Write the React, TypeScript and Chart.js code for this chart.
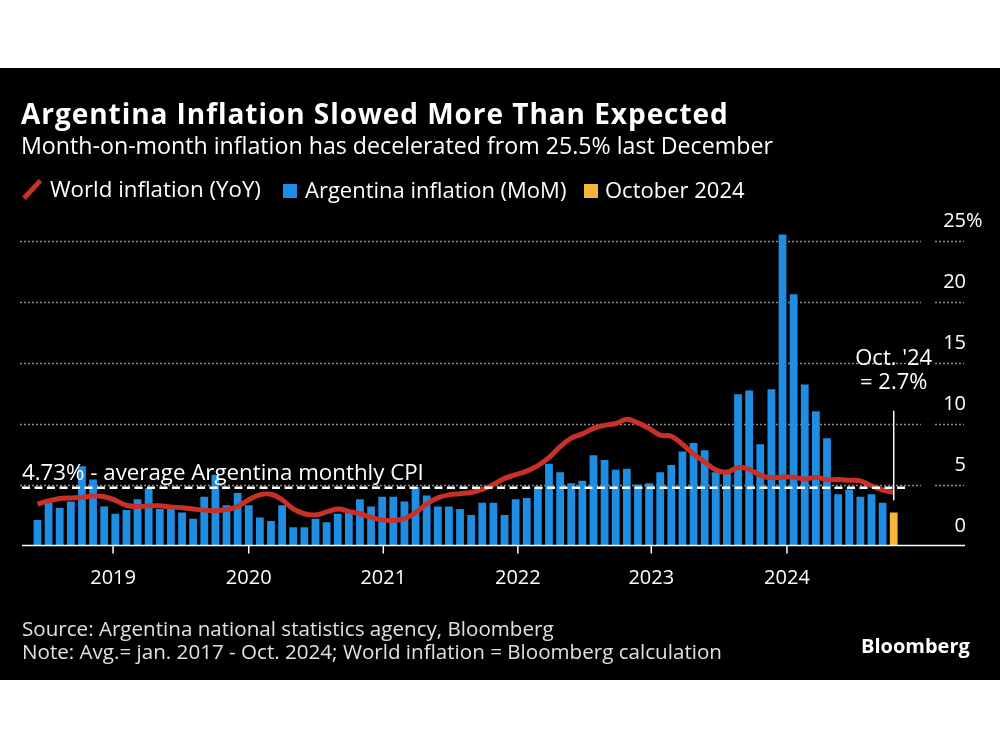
import React, { useEffect, useRef } from "react";
import { Chart, registerables } from "chart.js";

Chart.register(...registerables);

// ---- Data (monthly, May 2018 .. Oct 2024) ----
const argentinaMoM = [
  2.1, 3.5, 3.1, 3.6, 6.5, 5.4, 3.2, 2.6,
  2.9, 3.8, 4.7, 3.0, 3.0, 2.7, 2.2, 4.0, 5.8, 3.3, 4.3, 3.3,
  2.3, 2.0, 3.3, 1.5, 1.5, 2.2, 1.9, 2.6, 2.8, 3.8, 3.2, 4.0,
  4.0, 3.6, 4.8, 4.1, 3.2, 3.2, 3.0, 2.5, 3.5, 3.5, 2.5, 3.8,
  3.9, 4.7, 6.7, 6.0, 5.1, 5.3, 7.4, 7.0, 6.2, 6.3, 5.0, 5.1,
  6.0, 6.6, 7.7, 8.4, 7.8, 6.0, 6.2, 12.4, 12.7, 8.3, 12.8, 25.5,
  20.6, 13.2, 11.0, 8.8, 4.2, 4.6, 4.0, 4.2, 3.5, 2.7,
];

const worldYoY = [
  3.4, 3.65, 3.85, 3.9, 3.95, 4.05, 4.0, 3.7,
  3.3, 3.2, 3.25, 3.25, 3.15, 3.1, 3.0, 2.9, 2.85, 2.95, 3.2, 3.75,
  4.15, 4.2, 3.75, 3.0, 2.6, 2.5, 2.75, 3.0, 2.8, 2.6, 2.3, 2.1,
  2.05, 2.2, 2.7, 3.4, 3.9, 4.15, 4.25, 4.35, 4.6, 5.0, 5.5, 5.8,
  6.1, 6.55, 7.2, 8.1, 8.8, 9.15, 9.6, 9.85, 10.0, 10.35, 10.05, 9.6,
  9.05, 8.95, 8.3, 7.5, 6.85, 6.2, 6.0, 6.4, 6.25, 5.75, 5.55, 5.6,
  5.6, 5.45, 5.6, 5.4, 5.4, 5.35, 5.3, 4.9, 4.55, 4.35,
];

const highlightIndex = 77; // October 2024
const averageCPI = 4.73;
const yearLabels = ["2019", "2020", "2021", "2022", "2023", "2024"];
const yearTickPositions = [6.8, 19.0, 31.1, 43.2, 55.2, 67.4];
const yTickValues = [5, 10, 15, 20, 25];
const yLabelValues = [0, 5, 10, 15, 20, 25];

const X_MIN = -1.39;
const X_MAX = 83.41;
const AVG_END = 78.1;

const BLUE = "#1e8de2";
const YELLOW = "#f7b53b";
const RED = "#c93027";
const FONT = '"Open Sans", "Noto Sans", sans-serif';

const decor = {
  id: "decor",
  beforeDatasetsDraw(chart: any) {
    const ctx = chart.ctx;
    const y = chart.scales.y;
    ctx.save();
    ctx.strokeStyle = "#8c8c8c";
    ctx.lineWidth = 1.5;
    ctx.setLineDash([2, 2]);
    yTickValues.forEach((v) => {
      const py = Math.round(y.getPixelForValue(v)) + 0.5;
      ctx.beginPath();
      ctx.moveTo(20, py);
      ctx.lineTo(921, py);
      ctx.moveTo(935, py);
      ctx.lineTo(964, py);
      ctx.stroke();
    });
    ctx.restore();
  },
  afterDatasetsDraw(chart: any) {
    const ctx = chart.ctx;
    const x = chart.scales.x;
    const y = chart.scales.y;
    const area = chart.chartArea;
    const base = y.getPixelForValue(0);
    ctx.save();
    // x axis line
    ctx.strokeStyle = "#ffffff";
    ctx.lineWidth = 1.5;
    ctx.beginPath();
    ctx.moveTo(area.left, base);
    ctx.lineTo(area.right, base);
    ctx.stroke();
    // ticks & year labels
    ctx.fillStyle = "#ffffff";
    ctx.font = `20px ${FONT}`;
    ctx.textAlign = "center";
    ctx.textBaseline = "alphabetic";
    yearTickPositions.forEach((p, i) => {
      const px = x.getPixelForValue(p);
      ctx.beginPath();
      ctx.moveTo(px, base);
      ctx.lineTo(px, base + 8);
      ctx.stroke();
      ctx.fillText(yearLabels[i], px, base + 38);
    });
    // y labels (above gridlines)
    yLabelValues.forEach((v) => {
      const py = y.getPixelForValue(v);
      ctx.textAlign = "right";
      ctx.fillText(String(v), 966, py - 14);
      if (v === 25) {
        ctx.textAlign = "left";
        ctx.fillText("%", 966, py - 14);
      }
    });
    // average label
    ctx.textAlign = "left";
    ctx.font = `22.3px ${FONT}`;
    const avgY = y.getPixelForValue(averageCPI);
    ctx.fillText(`${averageCPI}% - average Argentina monthly CPI`, 22, avgY - 8);
    // October annotation
    ctx.font = `22px ${FONT}`;
    const hx = x.getPixelForValue(highlightIndex);
    ctx.lineWidth = 1.5;
    ctx.beginPath();
    ctx.moveTo(hx, y.getPixelForValue(11.05));
    ctx.lineTo(hx, y.getPixelForValue(3.7));
    ctx.stroke();
    ctx.textAlign = "center";
    ctx.fillText("Oct. '24", hx, y.getPixelForValue(14.8));
    ctx.fillText(`= ${argentinaMoM[highlightIndex]}%`, hx, y.getPixelForValue(12.85));
    ctx.restore();
  },
};

export default function App() {
  const ref = useRef<HTMLCanvasElement | null>(null);

  useEffect(() => {
    if (!ref.current) return;
    const chart = new Chart(ref.current, {
      type: "bar",
      data: {
        datasets: [
          {
            type: "line",
            label: "Average",
            data: [
              { x: X_MIN, y: averageCPI },
              { x: AVG_END, y: averageCPI },
            ],
            borderColor: "#ffffff",
            borderWidth: 2.5,
            borderDash: [8, 4.5],
            pointRadius: 0,
            order: 1,
          } as any,
          {
            type: "line",
            label: "World inflation (YoY)",
            data: worldYoY.map((v, i) => ({ x: i, y: v })),
            borderColor: RED,
            borderWidth: 5,
            pointRadius: 0,
            tension: 0.4,
            order: 2,
          } as any,
          {
            type: "bar",
            label: "Argentina inflation (MoM)",
            data: argentinaMoM.map((v, i) => ({ x: i, y: v })),
            backgroundColor: argentinaMoM.map((_, i) => (i === highlightIndex ? YELLOW : BLUE)),
            barPercentage: 0.7,
            categoryPercentage: 1,
            order: 3,
          } as any,
        ],
      },
      options: {
        responsive: false,
        animation: false,
        layout: { padding: { left: 22, right: 35, top: 228.3, bottom: 204.5 } },
        scales: {
          x: { type: "linear", min: X_MIN, max: X_MAX, offset: false, display: false },
          y: { min: 0, max: 26, display: false },
        },
        plugins: { legend: { display: false }, tooltip: { enabled: false } },
      },
      plugins: [decor],
    });
    return () => chart.destroy();
  }, []);

  const txt = (extra: React.CSSProperties): React.CSSProperties => ({
    position: "absolute",
    whiteSpace: "nowrap",
    lineHeight: 1,
    fontFamily: FONT,
    color: "#ffffff",
    ...extra,
  });

  return (
    <div style={{ position: "absolute", left: 0, top: 0, width: 1000, height: 750, background: "#ffffff", overflow: "hidden" }}>
      <div style={{ position: "absolute", left: 0, top: 68, width: 1000, height: 612, background: "#000000" }} />
      <canvas ref={ref} width={1000} height={750} style={{ position: "absolute", left: 0, top: 0, width: 1000, height: 750 }} />
      <div style={txt({ left: 21, top: 99, fontSize: 28, fontWeight: 700, letterSpacing: 0.95 })}>Argentina Inflation Slowed More Than Expected</div>
      <div style={txt({ left: 21, top: 133.6, fontSize: 23.2 })}>Month-on-month inflation has decelerated from 25.5% last December</div>
      {/* legend */}
      <div style={{ position: "absolute", left: 20, top: 187, width: 24, height: 4.5, background: RED, transform: "rotate(-47deg)" }} />
      <div style={txt({ left: 50, top: 178.2, fontSize: 22.3 })}>World inflation (YoY)</div>
      <div style={{ position: "absolute", left: 283, top: 184, width: 14, height: 14, background: BLUE }} />
      <div style={txt({ left: 305, top: 178.2, fontSize: 22 })}>Argentina inflation (MoM)</div>
      <div style={{ position: "absolute", left: 584, top: 184, width: 14, height: 14, background: YELLOW }} />
      <div style={txt({ left: 605, top: 178.2, fontSize: 22 })}>October 2024</div>
      {/* footer */}
      <div style={txt({ left: 22, top: 618, fontSize: 20.6, color: "#e0e0e0" })}>Source: Argentina national statistics agency, Bloomberg</div>
      <div style={txt({ left: 22, top: 641, fontSize: 20.6, color: "#e0e0e0" })}>Note: Avg.= jan. 2017 - Oct. 2024; World inflation = Bloomberg calculation</div>
      <div style={txt({ left: 861, top: 636, fontSize: 20, fontWeight: 700 })}>Bloomberg</div>
    </div>
  );
}
